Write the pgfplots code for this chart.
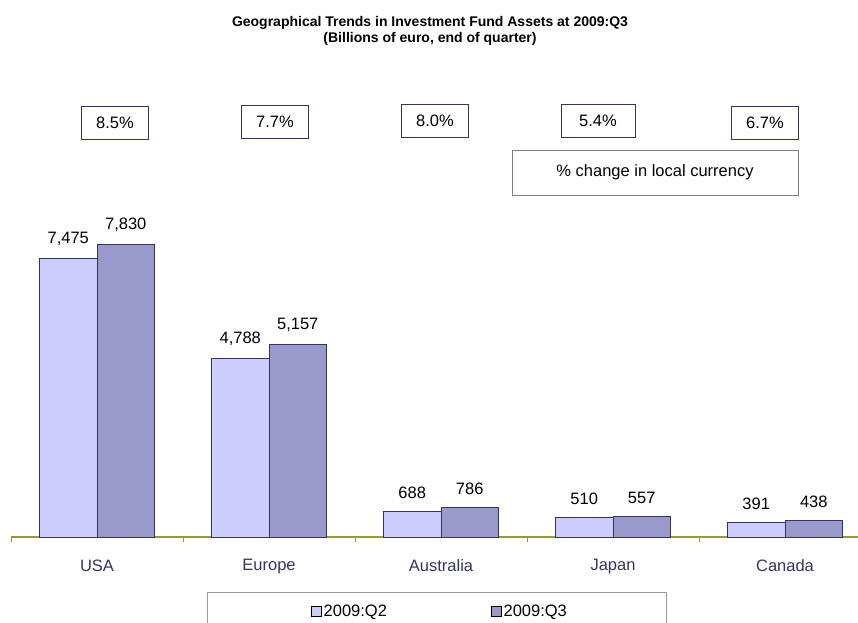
\documentclass[border=0pt]{standalone}
\usepackage{pgfplots}
\pgfplotsset{compat=1.18}
\usepackage{fontspec}
\setmainfont{Liberation Sans}
\definecolor{qtwo}{HTML}{CCCCFF}
\definecolor{qthree}{HTML}{9999CC}
\definecolor{edgeblue}{HTML}{333366}
\definecolor{axisolive}{HTML}{999933}
\definecolor{catblue}{HTML}{333366}
\begin{document}
\begin{tikzpicture}[x=1pt,y=1pt]
\useasboundingbox (0,0) rectangle (858,622);
\begin{axis}[
  at={(11pt,85pt)}, anchor=south west,
  scale only axis, width=847pt, height=298.6pt,
  xmin=-0.5, xmax=4.4244, ymin=0, ymax=8000,
  ybar=0pt, bar width=57.5pt,
  axis x line*=bottom, axis y line=none,
  x axis line style={axisolive, line width=1.5pt},
  xtick={0,1,2,3,4},
  xticklabels={USA,Europe,Australia,Japan,Canada},
  minor xtick={-0.5,0.5,1.5,2.5,3.5,4.5},
  major tick length=0pt, minor tick length=5pt,
  tick align=outside,
  minor tick style={axisolive, line width=1pt},
  xticklabel style={font=\fontsize{16.5}{19}\selectfont, text=catblue, yshift=-19pt},
  /pgf/number format/assume math mode=true,
  /pgf/number format/1000 sep={,},
  nodes near coords,
  every node near coord/.append style={font=\fontsize{16.5}{19}\selectfont, text=black, yshift=9pt},
  clip=false,
  legend style={draw=none, fill=none, at={(0.5065,-0.2478)}, anchor=center,
    legend columns=2, font=\fontsize{16.5}{19}\selectfont,
    /tikz/every even column/.append style={column sep=102pt},
    inner sep=0pt},
  legend image code/.code={\draw[#1,draw=black,line width=0.6pt] (0pt,-5pt) rectangle (10pt,5pt);},
]
\addplot[fill=qtwo, draw=edgeblue, line width=1pt] coordinates {(0,7475) (1,4788) (2,688) (3,510) (4,391)};
\addplot[fill=qthree, draw=edgeblue, line width=1pt] coordinates {(0,7830) (1,5157) (2,786) (3,557) (4,438)};
\legend{2009:Q2,2009:Q3}
\end{axis}
% title
\node[align=center, font=\bfseries\fontsize{14}{16}\selectfont] at (430,591.5)
  {Geographical Trends in Investment Fund Assets at 2009:Q3\\(Billions of euro, end of quarter)};
% percent boxes
\tikzset{pbox/.style={draw=edgeblue, line width=0.8pt, minimum width=67pt, minimum height=33pt, font=\fontsize{16.5}{19}\selectfont, inner sep=0pt}}
\node[pbox] at (115,499) {8.5\%};
\node[pbox] at (275,500) {7.7\%};
\node[pbox] at (435,501) {8.0\%};
\node[pbox, minimum width=74pt] at (598,501) {5.4\%};
\node[pbox] at (765,499) {6.7\%};
\node[draw=gray, line width=0.8pt, minimum width=286pt, minimum height=45pt, font=\fontsize{16.5}{19}\selectfont, inner sep=0pt] at (655,449.5) {\% change in local currency};
% legend frame
\draw[gray!80, line width=0.8pt] (207,-2) -- (207,30) -- (666,30) -- (666,-2);
\end{tikzpicture}
\end{document}
